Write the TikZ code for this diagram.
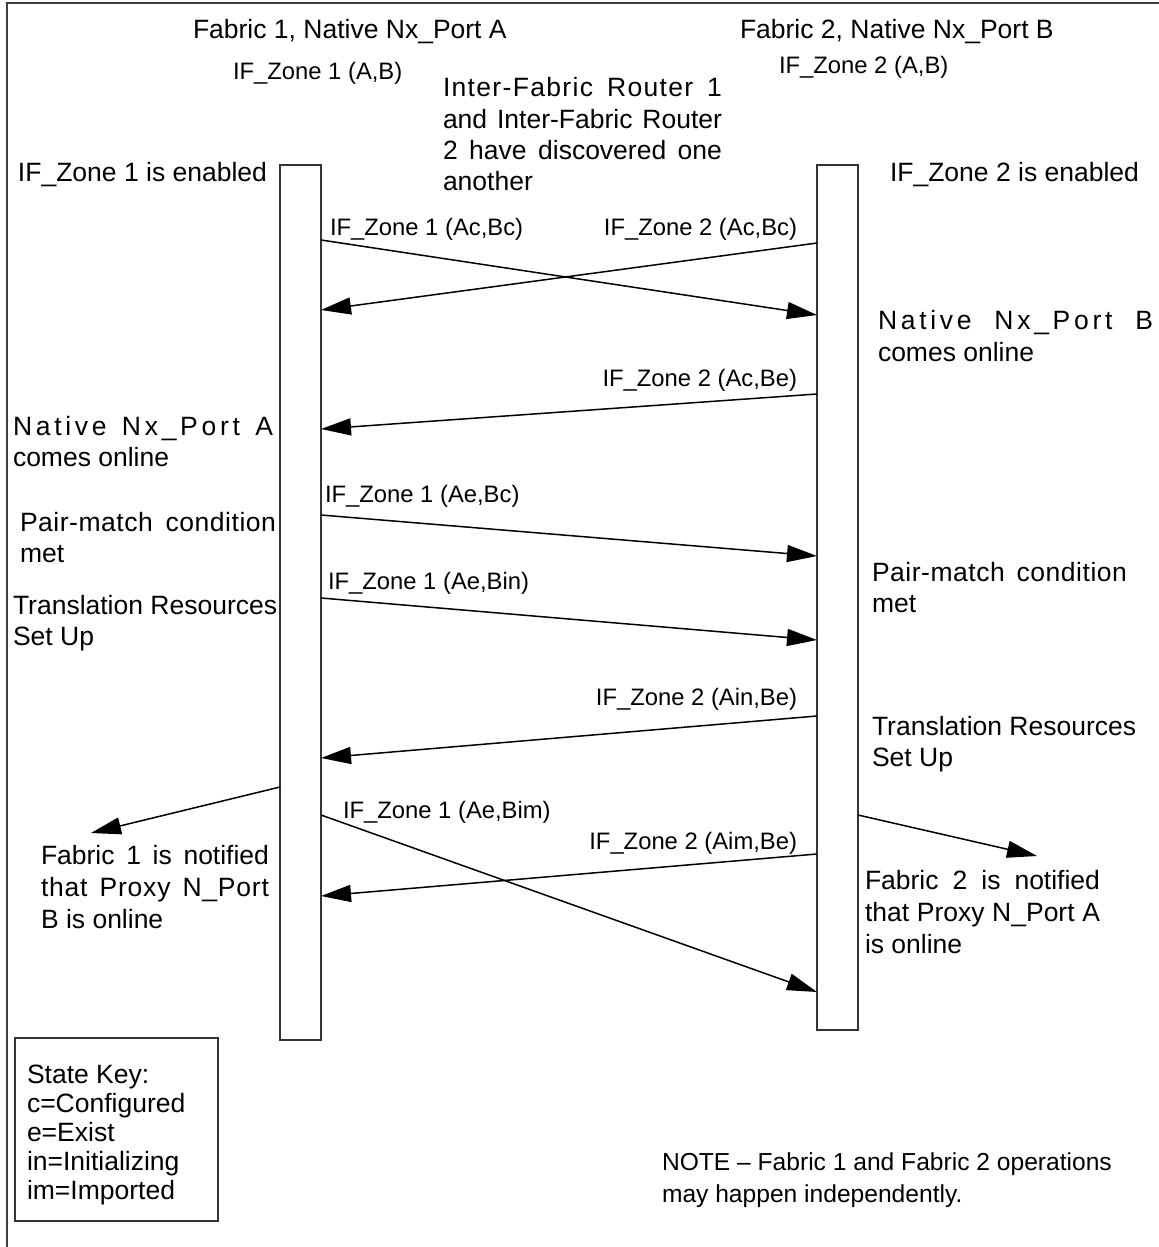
\documentclass[tikz,border=0pt]{standalone}
\usepackage{fontspec}
\setmainfont{Liberation Sans}
\newfontfamily\widefont[LetterSpace=14]{Liberation Sans}
\newfontfamily\semiwidefont[LetterSpace=5]{Liberation Sans}
\newfontfamily\lightwidefont[LetterSpace=3]{Liberation Sans}
\newfontfamily\slightwidefont[LetterSpace=2]{Liberation Sans}
\usetikzlibrary{arrows.meta}

\tikzset{
  big/.style={font=\fontsize{13.25}{16}\selectfont, inner sep=0pt, outer sep=0pt},
  lbl/.style={font=\fontsize{11.9}{14}\selectfont, inner sep=0pt, outer sep=0pt},
  notefont/.style={font=\fontsize{12.3}{15}\selectfont, inner sep=0pt, outer sep=0pt},
  lifeline/.style={draw=black!80, line width=1pt, fill=white, inner sep=0pt,
    outer sep=0pt, minimum width=20.5pt},
  msg/.style={line width=0.75pt, -{Triangle[length=15pt,width=8.5pt]}},
  frame/.style={draw=black!75, line width=1pt},
}
% justified line of a given width (in pt)
\newcommand{\jline}[2]{\makebox[#1][s]{#2}}

\begin{document}
\begin{tikzpicture}[x=0.5pt,y=-0.5pt]
  \useasboundingbox (0,0) rectangle (1159,1247);
  \fill[white] (0,0) rectangle (1159,1247);

  % outer frame (top and left edges)
  \draw[frame] (7,1247) -- (7,3) -- (1159,3);

  % column headings
  \node[big, anchor=base west] (hA) at (193,39) {Fabric 1, Native Nx\_Port A};
  \node[lbl, anchor=base west] (zA) at (233,80) {IF\_Zone 1 (A,B)};
  \node[big, anchor=base west] (hB) at (740,39) {Fabric 2, Native Nx\_Port B};
  \node[lbl, anchor=base west] (zB) at (779,74) {IF\_Zone 2 (A,B)};

  % routers discovered
  \node[big, anchor=base west] (r1) at (443,97)  {\jline{139.5pt}{\semiwidefont Inter-Fabric Router 1}};
  \node[big, anchor=base west] (r2) at (443,128) {\jline{139.5pt}{and Inter-Fabric Router}};
  \node[big, anchor=base west] (r3) at (443,160) {\jline{139.5pt}{2 have discovered one}};
  \node[big, anchor=base west] (r4) at (443,191) {another};

  % lifelines
  \node[lifeline, minimum height=437.5pt, anchor=north west] (barA) at (280,165) {};
  \node[lifeline, minimum height=432.5pt, anchor=north west] (barB) at (817,165) {};

  % state notes, Fabric 1 side
  \node[big, anchor=base west] (enA) at (18,181) {IF\_Zone 1 is enabled};
  \node[big, anchor=base west] (onA1) at (13,435) {\jline{130pt}{\widefont Native Nx\_Port A}};
  \node[big, anchor=base west] (onA2) at (13,466) {comes online};
  \node[big, anchor=base west] (pmA1) at (20,531) {\jline{128pt}{\slightwidefont Pair-match condition}};
  \node[big, anchor=base west] (pmA2) at (20,562) {met};
  \node[big, anchor=base west] (trA1) at (13,614) {Translation Resources};
  \node[big, anchor=base west] (trA2) at (13,645) {Set Up};
  \node[big, anchor=base west] (nfA1) at (41,864) {\jline{114pt}{Fabric 1 is notified}};
  \node[big, anchor=base west] (nfA2) at (41,896) {\jline{114pt}{\lightwidefont that Proxy N\_Port}};
  \node[big, anchor=base west] (nfA3) at (41,928) {B is online};

  % state notes, Fabric 2 side
  \node[big, anchor=base west] (enB) at (890,181) {IF\_Zone 2 is enabled};
  \node[big, anchor=base west] (onB1) at (878,329) {\jline{137.5pt}{\widefont Native Nx\_Port B}};
  \node[big, anchor=base west] (onB2) at (878,361) {comes online};
  \node[big, anchor=base west] (pmB1) at (872,581) {\jline{127.5pt}{\slightwidefont Pair-match condition}};
  \node[big, anchor=base west] (pmB2) at (872,612) {met};
  \node[big, anchor=base west] (trB1) at (872,735) {Translation Resources};
  \node[big, anchor=base west] (trB2) at (872,766) {Set Up};
  \node[big, anchor=base west] (nfB1) at (865,889) {\jline{117.5pt}{Fabric 2 is notified}};
  \node[big, anchor=base west] (nfB2) at (865,921) {\jline{117.5pt}{that Proxy N\_Port A}};
  \node[big, anchor=base west] (nfB3) at (865,953) {is online};

  % message labels
  \node[lbl, anchor=base west] (l1) at (330,235) {IF\_Zone 1 (Ac,Bc)};
  \node[lbl, anchor=base east] (l2) at (797,235) {IF\_Zone 2 (Ac,Bc)};
  \node[lbl, anchor=base east] (l3) at (797,386) {IF\_Zone 2 (Ac,Be)};
  \node[lbl, anchor=base west] (l4) at (325,502) {IF\_Zone 1 (Ae,Bc)};
  \node[lbl, anchor=base west] (l5) at (328,589) {IF\_Zone 1 (Ae,Bin)};
  \node[lbl, anchor=base east] (l6) at (797,705) {IF\_Zone 2 (Ain,Be)};
  \node[lbl, anchor=base west] (l8) at (343,818) {IF\_Zone 1 (Ae,Bim)};
  \node[lbl, anchor=base east] (l9) at (797,849) {IF\_Zone 2 (Aim,Be)};

  % free ends of the notification arrows
  \coordinate (tipA) at (91,833);
  \coordinate (tipB) at (1037,856);

  % messages between the routers
  \draw[msg] (barA.east |- 0,240) -- (barB.west |- 0,315);
  \draw[msg] (barB.west |- 0,243) -- (barA.east |- 0,310);
  \draw[msg] (barB.west |- 0,394) -- (barA.east |- 0,429);
  \draw[msg] (barA.east |- 0,515) -- (barB.west |- 0,556);
  \draw[msg] (barA.east |- 0,598) -- (barB.west |- 0,640);
  \draw[msg] (barB.west |- 0,716) -- (barA.east |- 0,758);
  \draw[msg] (barA.west |- 0,787) -- (tipA);
  \draw[msg] (barA.east |- 0,815) -- (barB.west |- 0,992);
  \draw[msg] (barB.west |- 0,854) -- (barA.east |- 0,896);
  \draw[msg] (barB.east |- 0,815) -- (tipB);

  % state key
  \node[draw=black!80, line width=1pt, inner sep=0pt, outer sep=0pt,
        minimum width=101.5pt, minimum height=91.5pt, anchor=north west] (keybox) at (15,1038) {};
  \node[big, anchor=base west] (k1) at (27,1083) {State Key:};
  \node[big, anchor=base west] (k2) at (27,1112) {c=Configured};
  \node[big, anchor=base west] (k3) at (27,1141) {e=Exist};
  \node[big, anchor=base west] (k4) at (27,1170) {in=Initializing};
  \node[big, anchor=base west] (k5) at (27,1199) {im=Imported};

  % closing note
  \node[notefont, anchor=base west] (note1) at (662,1170) {NOTE \textendash{} Fabric 1 and Fabric 2 operations};
  \node[notefont, anchor=base west] (note2) at (662,1202) {may happen independently.};
\end{tikzpicture}
\end{document}
